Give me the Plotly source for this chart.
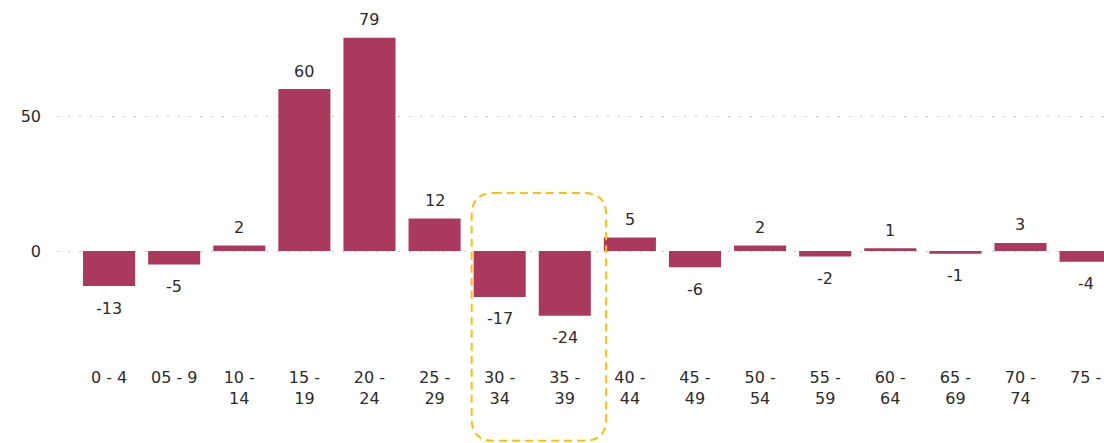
import plotly.graph_objects as go

categories = ["0 - 4", "05 - 9", "10 - 14", "15 - 19", "20 - 24", "25 - 29", "30 - 34", "35 - 39",
              "40 - 44", "45 - 49", "50 - 54", "55 - 59", "60 - 64", "65 - 69", "70 - 74", "75 - 79"]
tick_labels = ["0 - 4", "05 - 9", "10 -<br>14", "15 -<br>19", "20 -<br>24", "25 -<br>29", "30 -<br>34",
               "35 -<br>39", "40 -<br>44", "45 -<br>49", "50 -<br>54", "55 -<br>59", "60 -<br>64",
               "65 -<br>69", "70 -<br>74", "75 -"]
values = [-13, -5, 2, 60, 79, 12, -17, -24, 5, -6, 2, -2, 1, -1, 3, -4]
y_ticks = [0, 50]
highlight = ["30 - 34", "35 - 39"]

BAR = "#AB395E"
TXT = "#2B2B2B"
FONT = "DejaVu Sans"
FS = 16

xs = list(range(len(categories)))

fig = go.Figure()
fig.add_trace(go.Bar(x=xs, y=values, marker=dict(color=BAR, line=dict(width=0)),
                     hoverinfo="skip"))

for x, v in zip(xs, values):
    fig.add_annotation(x=x, y=v, text=str(v), showarrow=False,
                       yshift=18 if v >= 0 else -22, yanchor="middle",
                       font=dict(family=FONT, size=FS, color=TXT))

# highlight box (rounded dashed rectangle)
i0 = categories.index(highlight[0])
i1 = categories.index(highlight[-1])
x0, x1 = i0 - 0.43, i1 + 0.635
y_top, y_bot = 0.477, -0.231
rx, ry = 0.34, 0.063
path = (f"M {x0+rx},{y_top} L {x1-rx},{y_top} Q {x1},{y_top} {x1},{y_top-ry} "
        f"L {x1},{y_bot+ry} Q {x1},{y_bot} {x1-rx},{y_bot} "
        f"L {x0+rx},{y_bot} Q {x0},{y_bot} {x0},{y_bot+ry} "
        f"L {x0},{y_top-ry} Q {x0},{y_top} {x0+rx},{y_top} Z")
fig.add_shape(type="path", path=path, xref="x", yref="paper",
              line=dict(color="#FFC000", width=2, dash="8px,5px"),
              fillcolor="rgba(0,0,0,0)", layer="above")

fig.update_layout(
    width=1104, height=443,
    margin=dict(l=57, r=0, t=10, b=83),
    paper_bgcolor="white", plot_bgcolor="white",
    bargap=0.2, showlegend=False,
    font=dict(family=FONT, size=FS, color=TXT),
    xaxis=dict(range=[-0.8, 15.283], tickmode="array", tickvals=xs, ticktext=tick_labels,
               showgrid=False, zeroline=False, showline=False, ticks="", automargin=False,
               tickfont=dict(family=FONT, size=FS, color=TXT), ticklabelstandoff=6),
    yaxis=dict(range=[-40.37, 89.26], tickmode="array", tickvals=y_ticks,
               showgrid=True, gridcolor="#C8C8C8", gridwidth=1, griddash="2px,9px",
               zeroline=False, showline=False, ticks="", automargin=False,
               tickfont=dict(family=FONT, size=FS, color=TXT), ticklabelstandoff=15),
)

fig.write_html("out.html", config={"displayModeBar": False},
               post_script="document.body.style.margin='0';document.body.style.overflow='hidden';")
